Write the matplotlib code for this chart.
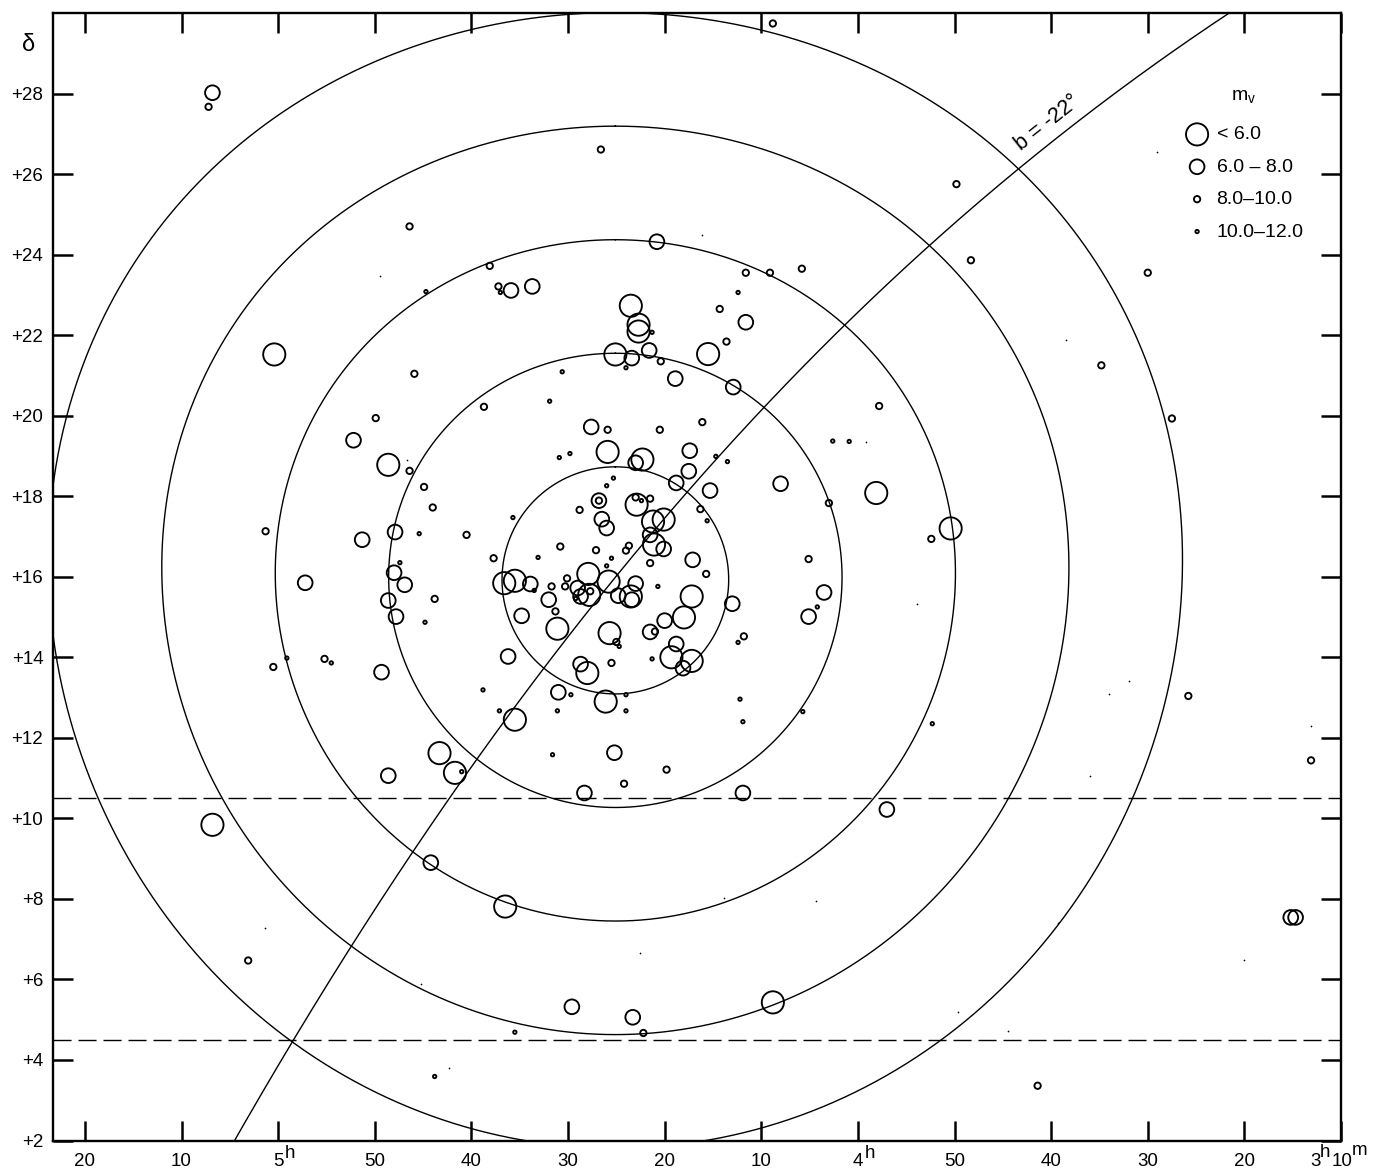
import matplotlib.pyplot as plt
import numpy as np

plt.rcParams['font.family'] = ['Liberation Sans', 'DejaVu Sans']
plt.rcParams['mathtext.fontset'] = 'custom'
plt.rcParams['mathtext.rm'] = 'Liberation Sans'

# --- star positions: (RA in minutes of time, Dec in degrees) per m_v class ---
stars_lt6 = [(300.4, 21.52), (263.5, 22.73), (262.7, 22.26), (262.7, 22.09), (265.1, 21.52),
             (255.5, 21.53), (288.6, 18.78), (265.9, 19.10), (262.3, 18.91), (238.1, 18.08),
             (230.4, 17.20), (262.9, 17.79), (261.2, 17.37), (260.1, 17.42), (261.1, 16.80),
             (276.6, 15.84), (275.5, 15.90), (267.9, 16.07), (265.8, 15.88), (267.8, 15.55),
             (263.5, 15.51), (257.2, 15.51), (258.0, 14.99), (271.1, 14.71), (265.7, 14.60),
             (259.3, 14.00), (257.2, 13.91), (268.0, 13.61), (266.1, 12.90), (275.5, 12.45),
             (283.3, 11.62), (281.7, 11.13), (306.8, 9.84), (276.5, 7.81), (248.8, 5.43)]

stars_6_8 = [(306.8, 28.02), (260.8, 24.32), (275.9, 23.11), (273.7, 23.21), (263.4, 21.43),
             (261.6, 21.62), (251.6, 22.32), (258.9, 20.92), (252.9, 20.71), (292.2, 19.39),
             (291.3, 16.92), (287.9, 17.11), (288.0, 16.10), (286.9, 15.80), (297.2, 15.85),
             (288.6, 15.41), (287.8, 15.01), (276.2, 14.02), (289.3, 13.63), (288.6, 11.06),
             (267.6, 19.72), (263.0, 18.83), (257.4, 19.13), (257.5, 18.62), (258.8, 18.33),
             (255.3, 18.14), (248.0, 18.31), (266.8, 17.89), (266.5, 17.43), (266.0, 17.21),
             (261.5, 17.04), (260.1, 16.69), (257.1, 16.42), (273.9, 15.82), (269.0, 15.72),
             (268.7, 15.51), (264.8, 15.53), (263.4, 15.43), (263.0, 15.83), (260.0, 14.91),
             (261.5, 14.63), (272.0, 15.43), (274.8, 15.03), (253.0, 15.33), (258.8, 14.33),
             (258.1, 13.73), (268.7, 13.83), (271.0, 13.13), (243.5, 15.61), (245.1, 15.01),
             (284.2, 8.90), (268.3, 10.63), (251.9, 10.63), (237.0, 10.22), (269.6, 5.32),
             (263.3, 5.06), (195.2, 7.54), (194.7, 7.54), (265.2, 11.63)]

stars_8_10 = [(307.2, 27.67), (286.4, 24.70), (278.1, 23.72), (277.2, 23.21), (285.9, 21.04),
              (278.7, 20.22), (248.8, 29.74), (266.6, 26.61), (229.8, 25.75), (251.6, 23.55),
              (249.1, 23.55), (245.8, 23.65), (254.3, 22.65), (253.6, 21.84), (260.4, 21.35),
              (237.8, 20.24), (228.3, 23.86), (210.0, 23.55), (214.8, 21.25), (289.9, 19.94),
              (286.4, 18.63), (284.9, 18.23), (284.0, 17.72), (301.3, 17.13), (280.5, 17.04),
              (277.7, 16.46), (283.8, 15.45), (300.5, 13.76), (295.2, 13.96), (265.9, 19.65),
              (260.5, 19.65), (256.1, 19.84), (266.8, 17.89), (268.8, 17.66), (263.0, 17.97),
              (261.5, 17.94), (256.3, 17.68), (263.7, 16.77), (264.0, 16.65), (270.8, 16.75),
              (267.1, 16.66), (261.5, 16.34), (255.7, 16.07), (271.7, 15.76), (270.1, 15.96),
              (270.3, 15.76), (267.7, 15.64), (271.3, 15.14), (265.0, 14.38), (251.8, 14.52),
              (261.0, 14.64), (265.5, 13.86), (243.0, 17.83), (232.4, 16.94), (245.1, 16.44),
              (207.5, 19.93), (205.8, 13.04), (193.1, 11.44), (303.1, 6.47), (264.2, 10.86),
              (259.8, 11.21), (262.2, 4.67), (221.4, 3.36)]

stars_10_12 = [(284.7, 23.08), (277.0, 23.06), (252.4, 23.06), (261.3, 22.07), (264.0, 21.19),
               (270.6, 21.09), (271.9, 20.36), (285.4, 17.07), (287.4, 16.35), (284.8, 14.87),
               (299.1, 13.98), (294.5, 13.86), (278.8, 13.19), (277.1, 12.67), (281.0, 11.16),
               (270.9, 18.96), (269.8, 19.06), (254.7, 18.99), (253.5, 18.86), (265.3, 18.45),
               (266.0, 18.26), (262.4, 17.89), (255.6, 17.39), (275.7, 17.47), (273.1, 16.48),
               (265.5, 16.46), (266.0, 16.27), (273.5, 15.66), (260.7, 15.76), (269.2, 15.46),
               (264.7, 14.27), (252.4, 14.37), (261.3, 13.96), (269.7, 13.07), (264.0, 13.07),
               (252.2, 12.96), (271.1, 12.67), (264.0, 12.67), (242.6, 19.37), (240.9, 19.36),
               (244.2, 15.25), (245.7, 12.65), (232.3, 12.35), (283.8, 3.59), (275.5, 4.69),
               (271.6, 11.58), (251.9, 12.40)]

faint_dots = [(289.5, 23.46), (256.1, 24.48), (209.0, 26.54), (218.5, 21.87), (286.7, 18.89),
              (239.2, 19.35), (233.9, 15.33), (211.9, 13.42), (214.0, 13.09), (193.1, 12.30),
              (216.0, 11.04), (301.4, 7.28), (285.2, 5.89), (282.3, 3.81), (253.9, 8.03),
              (244.3, 7.96), (262.5, 6.66), (229.6, 5.20), (219.3, 7.40), (200.0, 6.48),
              (224.5, 4.72)]

class_labels = ['< 6.0', '6.0 – 8.0', '8.0–10.0', '10.0–12.0']

# --- reference geometry ---
centre_ra, centre_dec = 265.1, 15.91           # cluster centre (min, deg)
ring_radii = [2.82, 5.64, 8.46, 11.28, 14.10]   # degrees
b_lat = -22.0
gal_pole_ra, gal_pole_dec = 192.25, 27.4        # B1950, degrees
dashed_decs = [10.5, 4.5]

xtick_vals = [320, 310, 300, 290, 280, 270, 260, 250, 240, 230, 220, 210, 200, 190]
xtick_labels = ['20', '10', '5', '50', '40', '30', '20', '10', '4',
                '50', '40', '30', '20', '']
ytick_vals = list(range(2, 30, 2))
ytick_labels = ['+%d' % v for v in ytick_vals]
FS = 13.5


def small_circle(ra0, dec0, r, n=1441):
    a0, d0, rr = np.radians(ra0 * 0.25), np.radians(dec0), np.radians(r)
    th = np.linspace(0, 2 * np.pi, n)
    sd = np.sin(d0) * np.cos(rr) + np.cos(d0) * np.sin(rr) * np.cos(th)
    da = np.arctan2(np.sin(th) * np.sin(rr) * np.cos(d0), np.cos(rr) - np.sin(d0) * sd)
    return np.degrees(a0 + da) * 4, np.degrees(np.arcsin(sd))


def gal_lat_line(ra_min, b):
    a = np.radians(ra_min * 0.25)
    ag, dg = np.radians(gal_pole_ra), np.radians(gal_pole_dec)
    A = np.sin(dg)
    B = np.cos(dg) * np.cos(a - ag)
    R = np.hypot(A, B)
    phi = np.arctan2(B, A)
    return np.degrees(np.arcsin(np.sin(np.radians(b)) / R) - phi)


fig = plt.figure(figsize=(13.73, 11.72), dpi=100, facecolor='white')
ax = fig.add_axes([53 / 1373, 1 - 1140.5 / 1172, 1288 / 1373, 1127.5 / 1172])

for r in ring_radii:
    cx, cy = small_circle(centre_ra, centre_dec, r)
    ax.plot(cx, cy, color='k', lw=1.0)

ra_line = np.linspace(180, 330, 600)
ax.plot(ra_line, gal_lat_line(ra_line, b_lat), color='k', lw=1.0)

for d in dashed_decs:
    ax.axhline(d, color='k', lw=1.0, dashes=(13, 5))

sizes = [255, 112, 21, 6]
handles = []
for stars, s, lab in zip([stars_lt6, stars_6_8, stars_8_10, stars_10_12], sizes, class_labels):
    arr = np.array(stars)
    h = ax.scatter(arr[:, 0], arr[:, 1], s=s, facecolors='none', edgecolors='k',
                   linewidths=1.35, zorder=5, label=lab)
    handles.append(h)

dots = np.array(faint_dots)
ax.scatter(dots[:, 0], dots[:, 1], s=1.5, color='k', lw=0, zorder=4)

ax.set_xlim(323.3, 190)
ax.set_ylim(2, 30.0)
ax.set_xticks(xtick_vals)
ax.set_xticklabels(xtick_labels)
ax.set_yticks(ytick_vals)
ax.set_yticklabels(ytick_labels)
ax.tick_params(direction='in', length=14.4, width=1.8, top=True, right=True,
               labelsize=FS)
ax.tick_params(axis='x', pad=9)
ax.tick_params(axis='y', pad=7)
for sp in ax.spines.values():
    sp.set_linewidth(1.7)

# hour / minute superscripts on the RA axis
xb = ('data', 'axes fraction')
for tick in (300, 240):
    ax.annotate('h', xy=(tick, 0), xycoords=xb, xytext=(5.0, -12.5),
                textcoords='offset points', ha='left', va='baseline', fontsize=FS)
for txt, dx, dy in [('3', -22.3, -18.6), ('h', -15.0, -11.8), ('10', -6.8, -18.6),
                    ('m', 7.6, -10.5)]:
    ax.annotate(txt, xy=(190, 0), xycoords=xb, xytext=(dx, dy),
                textcoords='offset points', ha='left', va='baseline', fontsize=FS)

# label along the b = -22 line
ra_lab = 219.3
p1 = ax.transData.transform((ra_lab + 1, gal_lat_line(ra_lab + 1, b_lat)))
p2 = ax.transData.transform((ra_lab - 1, gal_lat_line(ra_lab - 1, b_lat)))
ang = np.degrees(np.arctan2(p2[1] - p1[1], p2[0] - p1[0]))
nx, ny = -np.sin(np.radians(ang)), np.cos(np.radians(ang))
ax.annotate('b = -22°', xy=(ra_lab, gal_lat_line(ra_lab, b_lat)), xycoords='data',
            xytext=(5 * nx, 5 * ny), textcoords='offset points', rotation=ang,
            rotation_mode='anchor', ha='center', va='bottom', fontsize=15.5)

leg = ax.legend(handles=handles, title='m$_{\\rm v}$', loc='upper left',
                bbox_to_anchor=(0.8777, 0.9336), frameon=False, fontsize=14,
                title_fontsize=14, labelspacing=0.76, handletextpad=0.3,
                borderpad=0, borderaxespad=0, scatterpoints=1, handlelength=1.4)
leg._legend_box.sep = 14.2

fig.text(29 / 1373, 1 - 45 / 1172, 'δ', fontsize=17, ha='center', va='center')

fig.savefig('out.png', dpi=100, facecolor='white')
